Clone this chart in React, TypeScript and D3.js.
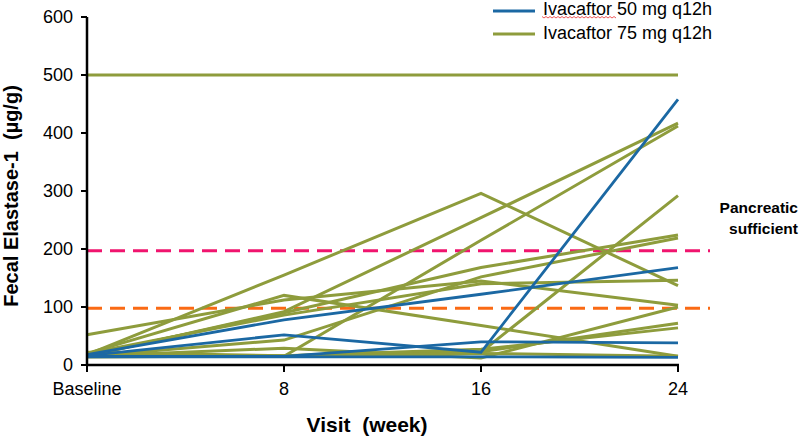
import React from "react";
import * as d3 from "d3";

const visits = ["Baseline", "8", "16", "24"];
const yTicks = [0, 100, 200, 300, 400, 500, 600];

// Ivacaftor 50 mg q12h (blue)
const ivacaftor50 = [
  [18, 78, 122, 168],
  [16, 52, 22, 458],
  [15, 15, 40, 38],
  [14, 14, 14, 13],
];

// Ivacaftor 75 mg q12h (green)
const ivacaftor75 = [
  [500, 500, 500, 500],
  [18, 155, 296, 137],
  [15, 92, 254, 417],
  [18, 15, 215, 412],
  [15, 15, 22, 292],
  [16, 90, 168, 224],
  [15, 43, 152, 219],
  [52, 112, 145, 103],
  [20, 120, 68, 15],
  [20, 86, 140, 146],
  [15, 29, 12, 100],
  [22, 16, 23, 72],
  [14, 16, 27, 64],
  [15, 15, 20, 15],
];

const thresholds = [
  { value: 197, color: "#f0146e" },
  { value: 98, color: "#fa6a14" },
];

const legendLabels = ["Ivacaftor 50 mg q12h", "Ivacaftor 75 mg q12h"];
const BLUE = "#1b68a3";
const GREEN = "#8e9c3c";

export default function App() {
  const x = d3.scalePoint<string>().domain(visits).range([87, 678]).padding(0);
  const y = d3.scaleLinear().domain([0, 600]).range([365, 17]);
  const line = d3
    .line<number>()
    .x((_, i) => x(visits[i]) as number)
    .y((d) => y(d));

  const font = "Arial, 'Liberation Sans', sans-serif";

  // spell-check squiggle under "Ivacaftor"
  let squiggle = "M542,16.5";
  for (let px = 542, k = 0; px < 615; px += 2, k++) {
    squiggle += ` L${px + 2},${k % 2 === 0 ? 18 : 16.5}`;
  }

  return (
    <svg
      width={800}
      height={437}
      style={{ position: "absolute", left: 0, top: 0, background: "#fff" }}
      fontFamily={font}
    >
      {/* threshold dashed lines */}
      {thresholds.map((t, i) => (
        <line
          key={i}
          x1={87}
          x2={710}
          y1={y(t.value)}
          y2={y(t.value)}
          stroke={t.color}
          strokeWidth={3}
          strokeDasharray="15 8"
        />
      ))}

      {/* green series */}
      {ivacaftor75.map((s, i) => (
        <path key={"g" + i} d={line(s) || ""} fill="none" stroke={GREEN} strokeWidth={3} />
      ))}
      {/* blue series */}
      {ivacaftor50.map((s, i) => (
        <path key={"b" + i} d={line(s) || ""} fill="none" stroke={BLUE} strokeWidth={2.8} />
      ))}

      {/* y axis */}
      <line x1={87} x2={87} y1={y(600)} y2={y(0)} stroke="#000" strokeWidth={2.5} />
      {yTicks.map((t) => (
        <g key={t}>
          <line x1={81} x2={87} y1={y(t)} y2={y(t)} stroke="#000" strokeWidth={2} />
          <text x={73} y={y(t)} dy="0.36em" textAnchor="end" fontSize={18} fill="#000">
            {t}
          </text>
        </g>
      ))}

      {/* x axis */}
      <line x1={86} x2={679} y1={y(0)} y2={y(0)} stroke="#000" strokeWidth={2.5} />
      {visits.map((v) => (
        <g key={v}>
          <line x1={x(v)} x2={x(v)} y1={y(0)} y2={y(0) + 7} stroke="#000" strokeWidth={2} />
          <text x={x(v) as number} y={395} textAnchor="middle" fontSize={18} fill="#000">
            {v}
          </text>
        </g>
      ))}

      {/* axis titles */}
      <text
        x={367}
        y={432}
        textAnchor="middle"
        fontSize={21}
        fontWeight="bold"
        fill="#000"
        style={{ whiteSpace: "pre" }}
      >
        {"Visit  (week)"}
      </text>
      <text
        transform="translate(18,196) rotate(-90)"
        textAnchor="middle"
        fontSize={20}
        fontWeight="bold"
        fill="#000"
        style={{ whiteSpace: "pre" }}
      >
        {"Fecal Elastase-1  (µg/g)"}
      </text>

      {/* legend */}
      {legendLabels.map((lab, i) => (
        <g key={lab}>
          <line
            x1={493}
            x2={535}
            y1={11 + i * 23}
            y2={11 + i * 23}
            stroke={i === 0 ? BLUE : GREEN}
            strokeWidth={3}
          />
          <text x={543} y={15 + i * 24} fontSize={18} fill="#000">
            {lab}
          </text>
        </g>
      ))}
      <path d={squiggle} fill="none" stroke="#e83030" strokeWidth={0.8} />

      {/* annotation */}
      <text x={798} y={213} textAnchor="end" fontSize={15.5} fontWeight="bold" fill="#000">
        Pancreatic
      </text>
      <text x={798} y={234} textAnchor="end" fontSize={15.5} fontWeight="bold" fill="#000">
        sufficient
      </text>
    </svg>
  );
}
